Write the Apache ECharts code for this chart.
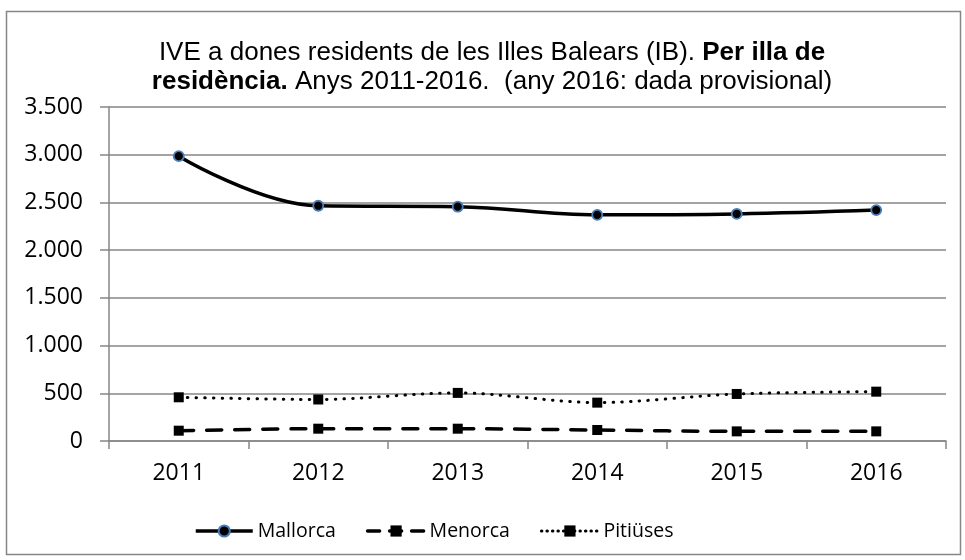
<!DOCTYPE html>
<html>
<head>
<meta charset="utf-8">
<script src="https://cdn.jsdelivr.net/npm/echarts@6/dist/echarts.min.js"></script>
<style>
  html, body { margin: 0; padding: 0; background: #fff; }
  #chart { width: 965px; height: 560px; }
</style>
</head>
<body>
<div id="chart"></div>
<script>
let years = ["2011", "2012", "2013", "2014", "2015", "2016"];
let mallorca = [2985, 2465, 2455, 2370, 2380, 2420];
let menorca = [108, 129, 129, 115, 101, 101];
let pitiuses = [458, 435, 504, 402, 493, 517];

let chart = echarts.init(document.getElementById("chart"));

// thousands with a dot, like the original
function dotThousands(v) {
  if (v < 1000) return String(v);
  return Math.floor(v / 1000) + "." + String(v % 1000).padStart(3, "0");
}

let axisFont = "Open Sans";
let grey = "#868686";

let option = {
  animation: false,
  backgroundColor: "#fff",
  graphic: [
    {
      type: "rect",
      shape: { x: 6.5, y: 11.5, width: 954, height: 543 },
      style: { fill: "none", stroke: grey, lineWidth: 1.5 },
      silent: true
    }
  ],
  title: {
    left: 487,
    textAlign: "center",
    top: 33,
    text:
      "{r|IVE a dones residents de les Illes Balears (IB). }{b|Per illa de}\n" +
      "{b|residència.}{r| Anys 2011-2016.  (any 2016: dada provisional)}",
    textStyle: {
      fontWeight: "normal",
      rich: {
        r: { fontFamily: "Liberation Sans", fontSize: 26, lineHeight: 29, fontWeight: "normal", color: "#000" },
        b: { fontFamily: "Liberation Sans", fontSize: 26, lineHeight: 29, fontWeight: "bold", color: "#000" }
      }
    }
  },
  legend: {
    bottom: 14,
    left: 189,
    itemWidth: 57,
    itemHeight: 14,
    itemGap: 30,
    textStyle: { fontFamily: axisFont, fontSize: 19.5, color: "#000" },
    data: [
      { name: "Mallorca", lineStyle: { width: 3.5 } },
      { name: "Menorca", lineStyle: { width: 3.5, type: [12, 10] } },
      { name: "Pitiüses", lineStyle: { width: 3, type: [0.5, 5] } }
    ]
  },
  grid: { left: 109, right: 19, top: 107, bottom: 119, containLabel: false },
  xAxis: {
    type: "category",
    data: years,
    boundaryGap: true,
    axisLine: { lineStyle: { color: grey, width: 1.5 } },
    axisTick: { show: true, length: 8, lineStyle: { color: grey, width: 1.5 } },
    axisLabel: { margin: 21, fontFamily: axisFont, fontSize: 23, color: "#000" }
  },
  yAxis: {
    type: "value",
    min: 0,
    max: 3500,
    interval: 500,
    axisLine: { show: true, lineStyle: { color: grey, width: 1.5 } },
    axisTick: { show: true, length: 9, lineStyle: { color: grey, width: 1.5 } },
    splitLine: { lineStyle: { color: grey, width: 1.5 } },
    axisLabel: {
      margin: 26,
      fontFamily: axisFont,
      fontSize: 23,
      color: "#000",
      formatter: dotThousands
    }
  },
  series: [
    {
      name: "Mallorca",
      type: "line",
      data: mallorca,
      smooth: 0.4,
      z: 5,
      symbol: "circle",
      symbolSize: 10,
      lineStyle: { color: "#000", width: 3.5 },
      itemStyle: { color: "#000", borderColor: "#4a7ebb", borderWidth: 1.8 }
    },
    {
      name: "Menorca",
      type: "line",
      data: menorca,
      smooth: 0.3,
      symbol: "rect",
      symbolSize: 10,
      lineStyle: { color: "#000", width: 3.5, type: [15, 13], cap: "round" },
      itemStyle: { color: "#000" }
    },
    {
      name: "Pitiüses",
      type: "line",
      data: pitiuses,
      smooth: 0.3,
      symbol: "rect",
      symbolSize: 10,
      lineStyle: { color: "#000", width: 3, type: [0.5, 8.2], cap: "round" },
      itemStyle: { color: "#000" }
    }
  ]
};

chart.setOption(option);
</script>
</body>
</html>
